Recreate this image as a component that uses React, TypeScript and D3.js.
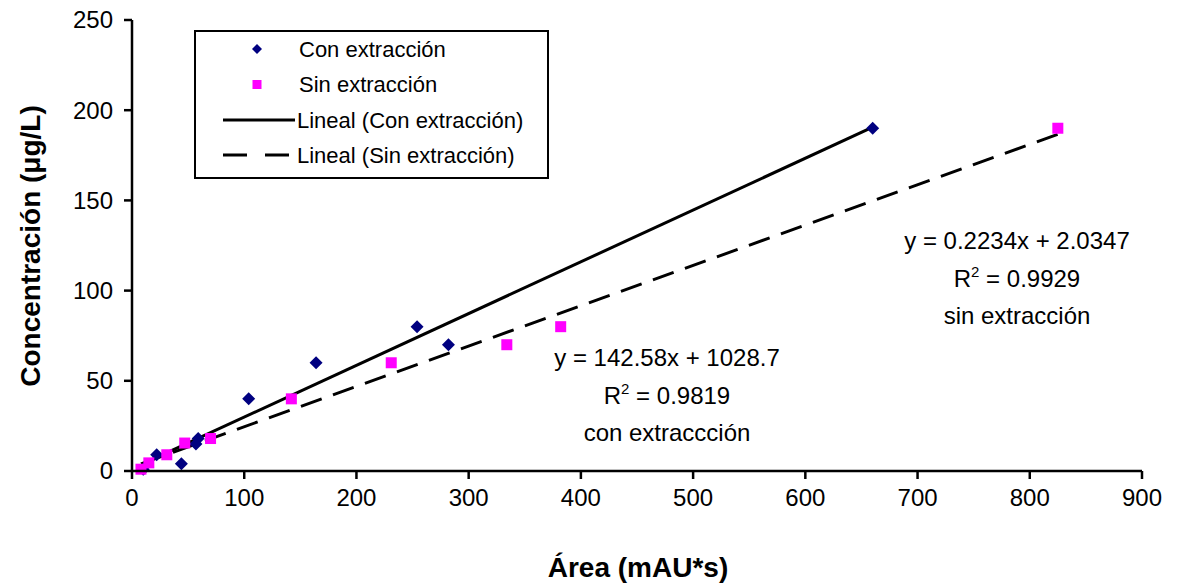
import React from "react";
import * as d3 from "d3";

const conArea = [10, 22, 44, 57, 59, 104, 164, 254, 282, 660];
const conConc = [1, 9, 4, 15, 18, 40, 60, 80, 70, 190];
const sinArea = [8, 15, 31, 47, 70, 142, 231, 334, 382, 825];
const sinConc = [1, 4.5, 9, 15.5, 18, 40, 60, 70, 80, 190];
const xTicks = [0, 100, 200, 300, 400, 500, 600, 700, 800, 900];
const yTicks = [0, 50, 100, 150, 200, 250];
const legendLabels = ["Con extracción", "Sin extracción", "Lineal (Con extracción)", "Lineal (Sin extracción)"];
const conEq = ["y = 142.58x + 1028.7", "0.9819", "con extraccción"];
const sinEq = ["y = 0.2234x + 2.0347", "0.9929", "sin extracción"];

function fit(xs: number[], ys: number[]) {
  const mx = d3.mean(xs)!;
  const my = d3.mean(ys)!;
  let sxy = 0, sxx = 0;
  xs.forEach((x, i) => { sxy += (x - mx) * (ys[i] - my); sxx += (x - mx) * (x - mx); });
  const m = sxy / sxx;
  return { m, b: my - m * mx };
}

export default function App() {
  const W = 1181, H = 587;
  const x = d3.scaleLinear().domain([0, 900]).range([132, 1142]);
  const y = d3.scaleLinear().domain([0, 250]).range([471, 20]);
  const font = "Arial, 'Liberation Sans', Helvetica, sans-serif";
  const line = d3.line<[number, number]>().x(d => x(d[0])).y(d => y(d[1]));
  const cf = fit(conArea, conConc);
  const sf = fit(sinArea, sinConc);
  const conExt = d3.extent(conArea) as [number, number];
  const sinExt = d3.extent(sinArea) as [number, number];
  const conLine = line(conExt.map(v => [v, cf.m * v + cf.b] as [number, number]))!;
  const sinLine = line(sinExt.map(v => [v, sf.m * v + sf.b] as [number, number]))!;
  const diamond = (cx: number, cy: number, r: number) => `M${cx},${cy - r}L${cx + r},${cy}L${cx},${cy + r}L${cx - r},${cy}Z`;
  const navy = "#000080";
  const magenta = "#FF00FF";

  const eqBlock = (lines: string[], cx: number, y0: number) => (
    <g fontFamily={font} fontSize={24} fill="#000" textAnchor="middle">
      <text x={cx} y={y0}>{lines[0]}</text>
      <text x={cx} y={y0 + 38}>R<tspan fontSize={15} dy={-10}>2</tspan><tspan dy={10}> = {lines[1]}</tspan></text>
      <text x={cx} y={y0 + 75}>{lines[2]}</text>
    </g>
  );

  return (
    <svg width={W} height={H} style={{ position: "absolute", left: 0, top: 0, background: "#fff" }}>
      <rect width={W} height={H} fill="#fff" />
      <path d={conLine} stroke="#000" strokeWidth={3} fill="none" />
      <path d={sinLine} stroke="#000" strokeWidth={3} fill="none" strokeDasharray="22,12" />
      {conArea.map((a, i) => (
        <path key={"c" + i} d={diamond(x(a), y(conConc[i]), 6.5)} fill={navy} />
      ))}
      {sinArea.map((a, i) => (
        <rect key={"s" + i} x={x(a) - 5.5} y={y(sinConc[i]) - 5.5} width={11} height={11} fill={magenta} />
      ))}
      <line x1={x(0)} x2={x(0)} y1={y(250)} y2={y(0)} stroke="#000" strokeWidth={2.5} />
      <line x1={x(0)} x2={x(900)} y1={y(0)} y2={y(0)} stroke="#000" strokeWidth={2.5} />
      {yTicks.map(t => (
        <g key={"y" + t}>
          <line x1={x(0) - 8} x2={x(0)} y1={y(t)} y2={y(t)} stroke="#000" strokeWidth={2.5} />
          <text x={x(0) - 19} y={y(t)} dy="0.35em" textAnchor="end" fontFamily={font} fontSize={24}>{t}</text>
        </g>
      ))}
      {xTicks.map(t => (
        <g key={"x" + t}>
          <line x1={x(t)} x2={x(t)} y1={y(0)} y2={y(0) + 8} stroke="#000" strokeWidth={2.5} />
          <text x={x(t)} y={y(0) + 35} textAnchor="middle" fontFamily={font} fontSize={24}>{t}</text>
        </g>
      ))}
      <text x={638} y={577} textAnchor="middle" fontFamily={font} fontSize={28} fontWeight="bold">Área (mAU*s)</text>
      <text transform={`translate(40,246) rotate(-90)`} textAnchor="middle" fontFamily={font} fontSize={28} fontWeight="bold">Concentración (μg/L)</text>
      {eqBlock(conEq, 667, 366)}
      {eqBlock(sinEq, 1017, 249)}
      <rect x={195} y={31} width={353} height={147} fill="#fff" stroke="#000" strokeWidth={2} />
      <path d={diamond(257, 49, 5)} fill={navy} />
      <rect x={252.5} y={80} width={9} height={9} fill={magenta} />
      <line x1={223} x2={295} y1={120} y2={120} stroke="#000" strokeWidth={3} />
      <line x1={223} x2={295} y1={155} y2={155} stroke="#000" strokeWidth={3} strokeDasharray="24,18" />
      {legendLabels.map((l, i) => (
        <text key={l} x={i < 2 ? 299 : 297} y={49 + i * 35.5} dy="0.35em" fontFamily={font} fontSize={22}>{l}</text>
      ))}
    </svg>
  );
}
